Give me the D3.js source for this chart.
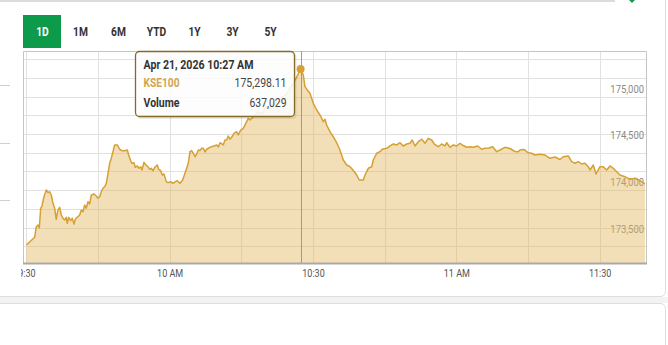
<!DOCTYPE html>
<html lang="en">
<head>
    <meta charset="utf-8">
    <title>KSE100 intraday</title>
    <script type="text/javascript" src="https://cdn.jsdelivr.net/npm/d3@7/dist/d3.min.js"></script>
    <style>
        body { margin: 0; background: #fff; }
        svg { display: block; font-family: Roboto, "Noto Sans", sans-serif; }
    </style>
</head>
<body>
<script type="text/javascript">
    // minutes after 9:30 open, Apr 21 2026
    var minutes = [
        0, 1.74, 2.08, 2.44, 2.71, 3.0, 3.27, 3.69, 4.17, 4.53,
        4.88, 5.22, 5.57, 5.93, 6.26, 6.62, 6.98, 7.31, 7.67, 8.02,
        8.36, 8.57, 8.86, 9.28, 9.61, 9.97, 10.24, 10.66, 11.16, 11.5,
        11.85, 12.21, 12.54, 12.9, 13.26, 13.59, 14.16, 14.64, 14.99, 15.35,
        15.68, 16.04, 16.4, 16.73, 17.09, 17.44, 17.78, 18.13, 18.49, 19.03,
        19.53, 20.02, 20.58, 21.13, 21.42, 21.84, 22.11, 22.53, 22.8, 23.22,
        23.58, 23.93, 24.2, 24.62, 25.04, 25.46, 25.81, 26.15, 26.5, 26.99,
        27.4, 27.7, 28.12, 28.45, 28.81, 29.29, 29.64, 30.21, 30.69, 31.17,
        31.59, 32.16, 32.72, 33.2, 33.56, 33.89, 34.25, 34.6, 34.94, 35.3,
        35.65, 35.99, 36.34, 36.7, 37.03, 37.39, 37.74, 38.43, 38.79, 39.84,
        40.17, 40.53, 41.22, 41.57, 41.93, 42.26, 42.62, 42.98, 43.46, 44.02,
        44.36, 44.86, 45.4, 46.12, 46.45, 46.81, 47.5, 48.46, 49.3, 50.14,
        50.99, 51.83, 52.67, 53.5, 54.34, 55.18, 55.81, 56.6, 57.4, 57.96,
        58.32, 58.8, 59.36, 60.06, 60.77, 61.46, 62.15, 62.5, 62.86, 63.55,
        64.24, 64.95, 65.64, 66.33, 67.05, 67.74, 68.37, 69.14, 69.68, 70.52,
        70.88, 71.57, 72.28, 72.61, 73.33, 74.02, 74.5, 75.42, 76.11, 76.8,
        77.51, 78.2, 78.89, 79.6, 80.29, 80.78, 81.34, 82.03, 82.74, 83.43,
        84.12, 84.84, 85.38, 86.22, 86.93, 87.62, 87.98, 88.67, 89.36, 90.07,
        90.76, 91.45, 92.16, 92.85, 93.54, 94.46, 95.3, 96.0, 96.83, 97.6,
        98.44, 99.13, 100.18, 101.22, 102.27, 102.96, 103.3, 104.0, 104.36, 104.71,
        105.05, 105.76, 106.46, 107.5, 108.55, 109.6, 110.64, 111.69, 112.38, 113.43,
        114.14, 114.83, 115.52, 116.23, 116.92, 117.61, 117.97, 118.66, 119.23, 120.06,
        120.75, 121.46, 122.15, 122.85, 123.56, 124.25, 125.3, 126.34, 127.39, 128.43,
        129.48
    ];
    var kse100 = [
        173413, 173495, 173609, 173627, 173595, 173806, 173830, 173930, 174002, 173973,
        173983, 173948, 173859, 173806, 173688, 173788, 173816, 173734, 173699, 173680,
        173709, 173645, 173709, 173673, 173699, 173638, 173688, 173709, 173734, 173788,
        173769, 173841, 173806, 173876, 173852, 173948, 173959, 173937, 173913, 173930,
        173983, 174020, 174037, 174073, 174180, 174288, 174341, 174412, 174484, 174484,
        174438, 174423, 174423, 174430, 174376, 174315, 174287, 174294, 174245, 174259,
        174234, 174251, 174216, 174298, 174269, 174251, 174223, 174234, 174208, 174251,
        174269, 174223, 174208, 174162, 174173, 174091, 174080, 174091, 174073, 174091,
        174101, 174073, 174109, 174180, 174234, 174287, 174412, 174423, 174395, 174358,
        174387, 174430, 174423, 174448, 174448, 174409, 174438, 174459, 174465, 174484,
        174462, 174508, 174484, 174537, 174540, 174580, 174545, 174566, 174609, 174626,
        174591, 174644, 174662, 174733, 174769, 174751, 174787, 174837, 174815, 174890,
        174879, 174944, 174923, 174998, 175019, 175094, 175137, 175212, 175298.11, 175233,
        175108, 175073, 175037, 174930, 174858, 174805, 174733, 174759, 174697, 174626,
        174572, 174508, 174430, 174323, 174269, 174251, 174216, 174162, 174109, 174109,
        174162, 174234, 174251, 174323, 174395, 174412, 174438, 174448, 174473, 174494,
        174484, 174508, 174473, 174494, 174502, 174537, 174473, 174519, 174545, 174502,
        174555, 174537, 174494, 174465, 174494, 174473, 174508, 174459, 174484, 174473,
        174502, 174478, 174459, 174465, 174459, 174473, 174438, 174448, 174451, 174465,
        174412, 174430, 174459, 174446, 174414, 174412, 174430, 174435, 174430, 174412,
        174401, 174395, 174376, 174385, 174376, 174341, 174355, 174328, 174358, 174366,
        174305, 174288, 174305, 174280, 174288, 174251, 174216, 174269, 174173, 174251,
        174251, 174216, 174259, 174234, 174198, 174162, 174144, 174116, 174127, 174101,
        174066
    ];
    var rangeButtons = ["1D", "1M", "6M", "YTD", "1Y", "3Y", "5Y"];
    var yTickValues = [173500, 174000, 174500, 175000];
    var hoverIndex = 128;
    var hoverVolume = 637029;

    var w = 668;
    var h = 345;
    var plot = { left: 23, right: 647, top: 51, bottom: 263 };
    var gold = "#d6a034";

    var openTime = new Date(2026, 3, 21, 9, 30);
    var dataset = minutes.map(function(m, i) {
        return { date: new Date(openTime.getTime() + m * 60000), value: kse100[i] };
    });

    var xScale = d3.scaleTime()
        .domain([new Date(2026, 3, 21, 9, 29, 18), new Date(2026, 3, 21, 11, 39, 54)])
        .range([plot.left, plot.right]);
    var yScale = d3.scaleLinear()
        .domain([173220, 175490])
        .range([plot.bottom, plot.top]);

    var svg = d3.select("body")
        .append("svg")
        .attr("width", w)
        .attr("height", h);

    svg.append("rect").attr("width", w).attr("height", h).attr("fill", "#fff");

    // page frame bits around the widget
    svg.append("line").attr("x1", 0).attr("x2", 615).attr("y1", 1).attr("y2", 1)
        .attr("stroke", "#dcdcdc").attr("stroke-width", 2);
    svg.append("path").attr("d", "M627,-2 L632,3 L637,-2 Z").attr("fill", "#0e9a4b");
    svg.append("path")
        .attr("d", "M0,296.5 L660,296.5 Q665.5,296.5 665.5,291 L665.5,0")
        .attr("fill", "none").attr("stroke", "#dedede");
    svg.append("rect").attr("x", 0).attr("y", 297).attr("width", 668).attr("height", 6)
        .attr("fill", "#f3f3f3");
    svg.append("path")
        .attr("d", "M0,303.5 L660,303.5 Q665.5,303.5 665.5,309 L665.5,345")
        .attr("fill", "#fff").attr("stroke", "#dedede");
    [85, 143, 200].forEach(function(y) {
        svg.append("line").attr("x1", 0).attr("x2", 10).attr("y1", y + 0.5).attr("y2", y + 0.5)
            .attr("stroke", "#cfcfcf");
    });

    // range buttons
    var btn = svg.append("g").selectAll("g")
        .data(rangeButtons)
        .enter()
        .append("g")
        .attr("transform", function(d, i) { return "translate(" + (42.5 + i * 38) + ",31.5)"; });
    btn.filter(function(d, i) { return i === 0; })
        .append("rect")
        .attr("x", -19.5).attr("y", -16.5).attr("width", 38).attr("height", 33)
        .attr("fill", "#0e9a4b");
    btn.append("text")
        .text(function(d) { return d; })
        .attr("text-anchor", "middle")
        .attr("y", 4)
        .attr("transform", "scale(0.82,1)")
        .attr("font-size", "12.5px")
        .attr("font-weight", "bold")
        .attr("fill", function(d, i) { return i === 0 ? "#fff" : "#333"; });

    // grid
    var gridY = d3.range(173400, 175500, 200);
    svg.append("g").selectAll("line")
        .data(gridY)
        .enter()
        .append("line")
        .attr("x1", plot.left).attr("x2", plot.right)
        .attr("y1", function(d) { return Math.round(yScale(d)) + 0.5; })
        .attr("y2", function(d) { return Math.round(yScale(d)) + 0.5; })
        .attr("stroke", "#e1e1e1");
    var gridX = d3.timeMinute.every(15).range(xScale.domain()[0], xScale.domain()[1]);
    svg.append("g").selectAll("line")
        .data(gridX)
        .enter()
        .append("line")
        .attr("y1", plot.top).attr("y2", plot.bottom)
        .attr("x1", function(d) { return Math.round(xScale(d)) + 0.5; })
        .attr("x2", function(d) { return Math.round(xScale(d)) + 0.5; })
        .attr("stroke", "#e1e1e1");

    // y labels sit just above their value, inside the plot on the right
    svg.append("g").selectAll("text")
        .data(yTickValues)
        .enter()
        .append("text")
        .attr("transform", function(d) { return "translate(644," + (yScale(d) - 4) + ") scale(0.9,1)"; })
        .attr("text-anchor", "end")
        .attr("font-size", "10.5px")
        .attr("fill", "#8a8a8a")
        .text(d3.format(","));

    var area = d3.area()
        .x(function(d) { return xScale(d.date); })
        .y0(plot.bottom)
        .y1(function(d) { return yScale(d.value); });
    var line = d3.line()
        .x(function(d) { return xScale(d.date); })
        .y(function(d) { return yScale(d.value); });

    svg.append("path")
        .datum(dataset)
        .attr("d", area)
        .attr("fill", "rgba(226,182,92,0.44)");
    svg.append("path")
        .datum(dataset)
        .attr("d", line)
        .attr("fill", "none")
        .attr("stroke", gold)
        .attr("stroke-width", 1.5)
        .attr("stroke-linejoin", "round");

    // plot frame
    svg.append("path")
        .attr("d", "M" + (plot.left + 0.5) + "," + plot.bottom + " V" + (plot.top + 0.5) +
            " H" + (plot.right - 0.5) + " V" + plot.bottom)
        .attr("fill", "none").attr("stroke", "#c4c4c4");
    svg.append("line")
        .attr("x1", plot.left).attr("x2", plot.right)
        .attr("y1", plot.bottom + 0.5).attr("y2", plot.bottom + 0.5)
        .attr("stroke", "#a9a9a9").attr("stroke-width", 2);

    // x axis
    var xAxis = d3.axisBottom(xScale)
        .ticks(d3.timeMinute.every(30))
        .tickSize(0)
        .tickPadding(7)
        .tickFormat(function(d) {
            return d.getMinutes() === 0 ? d3.timeFormat("%-I %p")(d) : d3.timeFormat("%-I:%M")(d);
        });
    svg.append("clipPath").attr("id", "xclip")
        .append("rect").attr("x", 21).attr("y", 250).attr("width", 640).attr("height", 40);
    var gx = svg.append("g")
        .attr("clip-path", "url(#xclip)")
        .append("g")
        .attr("transform", "translate(0," + plot.bottom + ")")
        .call(xAxis);
    gx.select(".domain").remove();
    gx.selectAll("text")
        .attr("font-family", "Roboto, sans-serif")
        .attr("font-size", "10.5px")
        .attr("fill", "#555")
        .attr("transform", "scale(0.86,1)");

    // hover state
    var hp = dataset[hoverIndex];
    var hx = xScale(hp.date);
    svg.append("line")
        .attr("x1", Math.round(hx) + 0.5).attr("x2", Math.round(hx) + 0.5)
        .attr("y1", plot.top).attr("y2", plot.bottom)
        .attr("stroke", "#9a9a9a");
    svg.append("circle")
        .attr("cx", hx).attr("cy", yScale(hp.value)).attr("r", 4)
        .attr("fill", gold);

    var tip = svg.append("g").attr("transform", "translate(135.5,51.5)");
    tip.append("rect")
        .attr("x", 1).attr("y", 1.5).attr("width", 160).attr("height", 66).attr("rx", 4)
        .attr("fill", "rgba(0,0,0,0.08)");
    tip.append("rect")
        .attr("width", 159).attr("height", 65).attr("rx", 4)
        .attr("fill", "rgba(255,255,255,0.88)")
        .attr("stroke", "#846a24").attr("stroke-width", 1.3);
    tip.append("text")
        .attr("x", 8).attr("y", 17)
        .attr("font-size", "12.5px").attr("font-weight", "bold").attr("fill", "#333")
        .attr("textLength", 110).attr("lengthAdjust", "spacingAndGlyphs")
        .text(d3.timeFormat("%b %-d, %Y %-I:%M %p")(hp.date));
    tip.append("text")
        .attr("x", 8).attr("y", 35)
        .attr("font-size", "12.5px").attr("font-weight", "bold").attr("fill", "#d2a552")
        .attr("textLength", 36).attr("lengthAdjust", "spacingAndGlyphs")
        .text("KSE100");
    tip.append("text")
        .attr("x", 151).attr("y", 35).attr("text-anchor", "end")
        .attr("font-size", "12.5px").attr("fill", "#444")
        .attr("textLength", 52).attr("lengthAdjust", "spacingAndGlyphs")
        .text(d3.format(",.2f")(hp.value));
    tip.append("text")
        .attr("x", 8).attr("y", 55)
        .attr("font-size", "12.5px").attr("font-weight", "bold").attr("fill", "#333")
        .attr("textLength", 36).attr("lengthAdjust", "spacingAndGlyphs")
        .text("Volume");
    tip.append("text")
        .attr("x", 151).attr("y", 55).attr("text-anchor", "end")
        .attr("font-size", "12.5px").attr("fill", "#444")
        .attr("textLength", 37).attr("lengthAdjust", "spacingAndGlyphs")
        .text(d3.format(",")(hoverVolume));
</script>
</body>
</html>
